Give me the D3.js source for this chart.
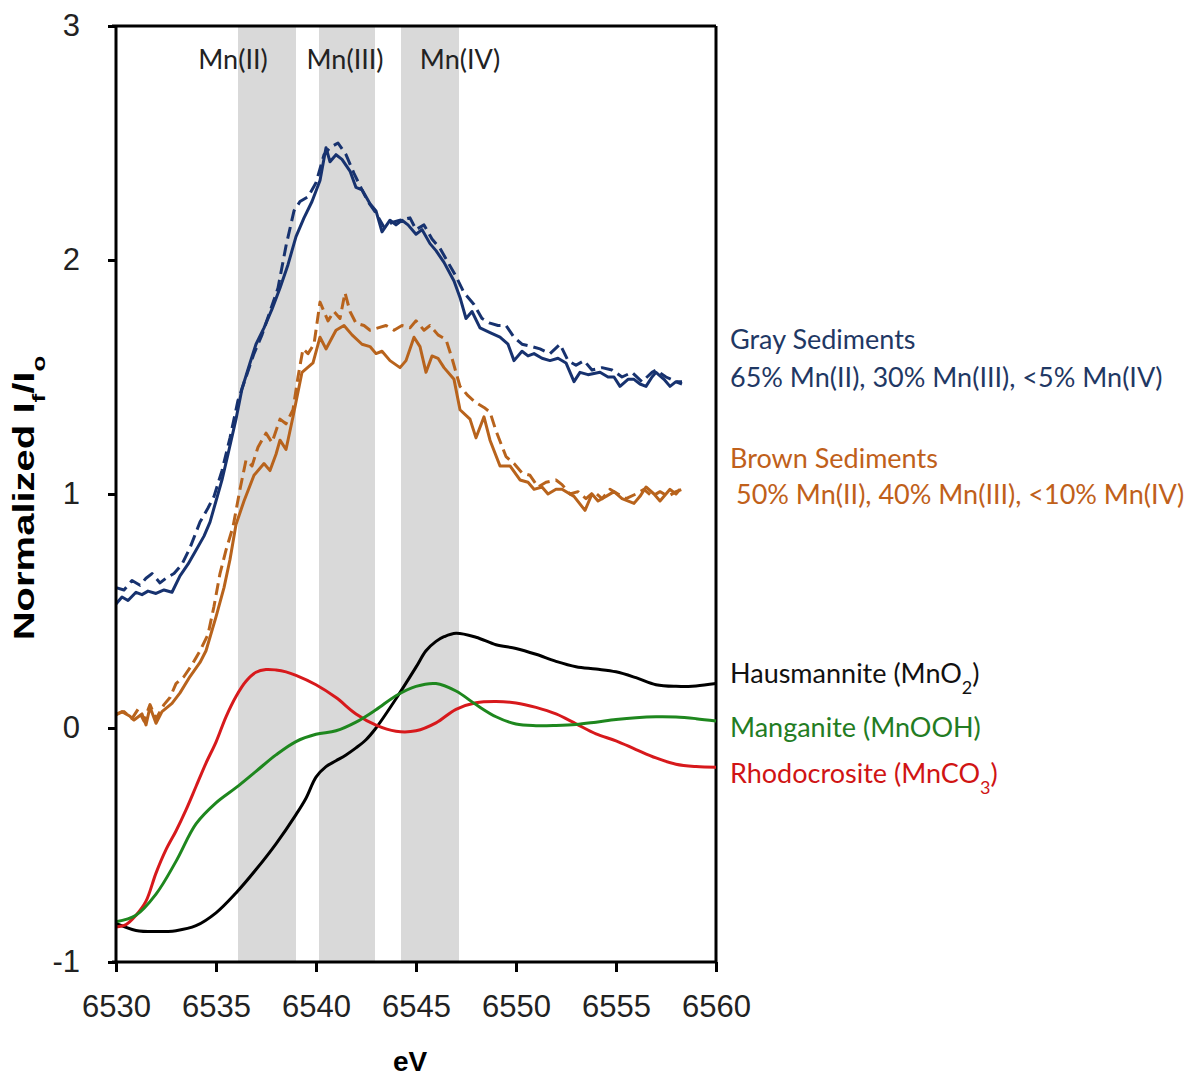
<!DOCTYPE html>
<html>
<head>
<meta charset="utf-8">
<script src="https://cdn.jsdelivr.net/npm/d3@7"></script>
<style>
  body { margin: 0; background: #fff; }
  .tick text { font-family: "Liberation Sans", Arial, sans-serif; fill: #222; }
  .lbl { font-family: Lato, "Open Sans", sans-serif; }
</style>
</head>
<body>
<script>
var w = 1196;
var h = 1078;

// noisy sample spectra (eV, normalized intensity)
var grayX = [6530.0,6530.3,6530.6,6531.0,6531.3,6531.6,6532.0,6532.4,6532.8,6533.2,6533.6,6534.0,6534.4,6534.7,6535.0,6535.3,6535.6,6536.0,6536.3,6536.7,6537.0,6537.4,6537.8,6538.2,6538.6,6539.0,6539.4,6539.8,6540.2,6540.5,6540.7,6541.0,6541.3,6541.7,6542.0,6542.3,6542.7,6543.0,6543.3,6543.7,6544.0,6544.3,6544.6,6545.0,6545.3,6545.7,6546.0,6546.4,6546.9,6547.2,6547.5,6547.8,6548.2,6548.7,6549.2,6549.6,6549.9,6550.3,6550.6,6550.9,6551.3,6551.7,6552.1,6552.5,6552.9,6553.2,6553.6,6554.2,6554.6,6554.9,6555.2,6555.6,6555.9,6556.2,6556.5,6556.8,6557.0,6557.4,6557.7,6558.0,6558.3];
var grayY = [0.53,0.56,0.545,0.58,0.57,0.585,0.575,0.59,0.58,0.65,0.70,0.76,0.82,0.88,0.97,1.06,1.17,1.32,1.45,1.56,1.64,1.71,1.79,1.88,1.98,2.10,2.18,2.25,2.34,2.48,2.42,2.45,2.43,2.38,2.31,2.30,2.24,2.21,2.12,2.17,2.15,2.17,2.15,2.11,2.13,2.07,2.04,1.99,1.91,1.84,1.75,1.78,1.71,1.69,1.67,1.64,1.57,1.61,1.59,1.60,1.58,1.57,1.58,1.56,1.48,1.52,1.51,1.52,1.50,1.50,1.46,1.49,1.49,1.47,1.46,1.50,1.52,1.49,1.46,1.48,1.48];

var grayFitX = [6530.0,6530.4,6530.8,6531.2,6531.5,6531.8,6532.2,6532.5,6532.9,6533.3,6533.7,6534.2,6534.6,6534.9,6535.3,6535.7,6536.1,6536.5,6536.9,6537.3,6537.7,6538.1,6538.5,6538.9,6539.2,6539.6,6540.0,6540.4,6540.7,6541.1,6541.5,6541.9,6542.3,6542.6,6543.0,6543.4,6543.8,6544.2,6544.7,6545.0,6545.4,6545.8,6546.2,6546.6,6547.0,6547.4,6547.9,6548.3,6548.7,6549.1,6549.5,6549.9,6550.3,6550.8,6551.2,6551.7,6552.2,6552.6,6553.0,6553.4,6553.8,6554.3,6554.8,6555.3,6555.8,6556.3,6556.8,6557.0,6557.5,6558.0,6558.3];
var grayFitY = [0.60,0.59,0.63,0.61,0.64,0.66,0.62,0.64,0.66,0.70,0.77,0.88,0.94,0.99,1.10,1.24,1.40,1.50,1.60,1.68,1.78,1.88,2.06,2.21,2.25,2.27,2.33,2.45,2.48,2.50,2.45,2.37,2.30,2.25,2.20,2.14,2.16,2.17,2.18,2.13,2.15,2.09,2.05,1.99,1.93,1.86,1.81,1.75,1.73,1.72,1.72,1.67,1.64,1.63,1.62,1.60,1.64,1.57,1.55,1.57,1.53,1.54,1.53,1.50,1.52,1.48,1.52,1.53,1.50,1.48,1.47];

var brownX = [6530.0,6530.3,6530.7,6530.9,6531.3,6531.5,6531.7,6532.0,6532.3,6532.8,6533.2,6533.7,6534.2,6534.5,6535.0,6535.4,6535.7,6536.0,6536.4,6536.9,6537.4,6537.7,6538.0,6538.2,6538.5,6538.85,6539.3,6539.85,6540.2,6540.5,6541.0,6541.4,6541.8,6542.3,6542.7,6543.0,6543.3,6543.7,6544.2,6544.5,6544.9,6545.2,6545.5,6545.8,6546.1,6546.4,6546.9,6547.2,6547.7,6548.0,6548.4,6548.7,6549.2,6549.7,6550.2,6550.6,6550.9,6551.3,6551.6,6552.0,6552.3,6552.9,6553.45,6553.8,6554.1,6554.5,6554.9,6555.3,6555.9,6556.2,6556.5,6556.9,6557.2,6557.7,6558.0,6558.2];
var brownY = [0.056,0.07,0.05,0.034,0.06,0.013,0.09,0.02,0.07,0.105,0.15,0.22,0.28,0.33,0.475,0.60,0.72,0.87,0.97,1.08,1.13,1.10,1.17,1.23,1.19,1.33,1.52,1.56,1.67,1.62,1.70,1.72,1.68,1.64,1.63,1.60,1.61,1.57,1.54,1.57,1.67,1.63,1.52,1.59,1.58,1.54,1.49,1.36,1.32,1.24,1.33,1.23,1.12,1.12,1.06,1.05,1.02,1.03,1.00,1.02,1.02,0.99,0.93,1.00,0.97,0.99,1.01,0.98,0.96,0.99,1.03,1.00,0.97,1.02,1.00,1.02];

var brownFitX = [6530.0,6530.4,6530.8,6531.1,6531.4,6531.7,6532.0,6532.4,6532.7,6533.0,6533.4,6533.8,6534.2,6534.6,6534.9,6535.2,6535.5,6535.85,6536.2,6536.5,6536.8,6537.1,6537.5,6537.8,6538.2,6538.5,6538.85,6539.1,6539.35,6539.6,6539.9,6540.2,6540.6,6540.9,6541.2,6541.45,6541.7,6542.0,6542.4,6542.7,6543.1,6543.5,6543.9,6544.3,6544.7,6545.0,6545.4,6545.7,6546.1,6546.5,6546.8,6547.2,6547.6,6548.0,6548.4,6548.7,6549.0,6549.5,6549.9,6550.3,6550.7,6551.1,6551.5,6552.0,6552.3,6552.7,6553.1,6553.5,6553.9,6554.3,6554.7,6555.1,6555.5,6556.0,6556.4,6556.8,6557.2,6557.6,6558.0,6558.3];
var brownFitY = [0.06,0.07,0.04,0.08,0.03,0.10,0.04,0.10,0.13,0.19,0.22,0.27,0.33,0.40,0.52,0.66,0.76,0.86,1.02,1.145,1.12,1.20,1.26,1.22,1.32,1.30,1.36,1.50,1.62,1.60,1.64,1.82,1.74,1.78,1.75,1.86,1.78,1.73,1.72,1.70,1.71,1.72,1.70,1.72,1.71,1.74,1.70,1.72,1.68,1.66,1.58,1.46,1.42,1.39,1.37,1.35,1.27,1.16,1.13,1.09,1.08,1.03,1.05,1.06,1.04,1.00,1.01,0.98,1.01,0.98,1.02,1.00,0.98,1.00,1.02,0.99,1.01,0.99,1.01,1.02];

// reference minerals
var hausX = [6530,6531,6532,6533,6534,6535,6536,6537,6538,6539,6539.5,6540,6540.5,6541,6541.5,6542,6542.5,6543,6544,6545,6545.5,6546,6546.4,6547,6548,6549,6550,6551,6552,6553,6554,6555,6556,6557,6558,6559,6560];
var hausY = [-0.835,-0.865,-0.87,-0.866,-0.845,-0.79,-0.705,-0.605,-0.495,-0.37,-0.30,-0.21,-0.165,-0.14,-0.115,-0.085,-0.05,0.0,0.125,0.26,0.33,0.37,0.39,0.405,0.388,0.356,0.34,0.315,0.285,0.262,0.252,0.24,0.215,0.185,0.178,0.18,0.19];

var mangX = [6530,6531,6532,6533,6534,6535,6536,6537,6538,6539,6540,6541,6542,6543,6544,6545,6546,6547,6548,6549,6550,6551,6552,6553,6554,6555,6556,6557,6558,6559,6560];
var mangY = [-0.828,-0.80,-0.71,-0.57,-0.41,-0.32,-0.255,-0.185,-0.115,-0.058,-0.027,-0.012,0.025,0.078,0.138,0.178,0.19,0.158,0.10,0.048,0.017,0.01,0.011,0.015,0.025,0.036,0.044,0.048,0.047,0.04,0.03];

var rhodX = [6530,6530.5,6531,6531.5,6532,6532.5,6533,6533.5,6534,6534.5,6535,6535.5,6536,6536.5,6537,6537.5,6538,6538.5,6539,6540,6541,6542,6543,6544,6545,6546,6547,6548,6549,6550,6551,6552,6553,6554,6555,6556,6557,6558,6559,6560];
var rhodY = [-0.85,-0.84,-0.80,-0.74,-0.62,-0.52,-0.44,-0.35,-0.25,-0.15,-0.06,0.048,0.135,0.20,0.238,0.25,0.248,0.24,0.225,0.185,0.13,0.06,0.012,-0.014,-0.012,0.022,0.08,0.108,0.113,0.107,0.088,0.06,0.018,-0.025,-0.055,-0.092,-0.128,-0.155,-0.165,-0.168];

// oxidation state windows
var bandNames = ["Mn(II)", "Mn(III)", "Mn(IV)"];
var bandFrom = [6536.1, 6540.15, 6544.25];
var bandTo = [6539.0, 6542.95, 6547.15];

var xTicks = [6530, 6535, 6540, 6545, 6550, 6555, 6560];
var yTicks = [-1, 0, 1, 2, 3];

var pL = 116, pR = 716, pT = 26, pB = 962;

var x = d3.scaleLinear().domain([6530, 6560]).range([pL, pR]);
var y = d3.scaleLinear().domain([-1, 3]).range([pB, pT]);

var svg = d3.select("body")
         .append("svg")
         .attr("width", w)
         .attr("height", h);

// gray bands
svg.selectAll("rect.band")
    .data(bandFrom)
    .enter()
    .append("rect")
    .attr("class", "band")
    .attr("x", function(d) { return x(d); })
    .attr("y", pT)
    .attr("width", function(d, i) { return x(bandTo[i]) - x(d); })
    .attr("height", pB - pT)
    .attr("fill", "#d9d9d9");

svg.selectAll("text.band")
    .data(bandNames)
    .enter()
    .append("text")
    .attr("class", "lbl")
    .attr("x", function(d, i) { return [233, 345, 460][i]; })
    .attr("y", 69)
    .attr("text-anchor", "middle")
    .attr("font-size", 27)
    .attr("fill", "#222")
    .text(function(d) { return d; });

// frame
svg.append("line").attr("x1", pL - 4).attr("y1", pT).attr("x2", pR).attr("y2", pT)
    .attr("stroke", "#000").attr("stroke-width", 3);
svg.append("line").attr("x1", pR).attr("y1", pT).attr("x2", pR).attr("y2", pB)
    .attr("stroke", "#000").attr("stroke-width", 3);

function series(xs, ys) {
  return xs.map(function(d, i) { return [d, ys[i]]; });
}

var lin = d3.line().x(function(d) { return x(d[0]); }).y(function(d) { return y(d[1]); });
var smooth = d3.line().curve(d3.curveCatmullRom).x(function(d) { return x(d[0]); }).y(function(d) { return y(d[1]); });

var curves = [
  { pts: series(hausX, hausY), color: "#000000", gen: smooth, dash: null },
  { pts: series(rhodX, rhodY), color: "#d7191c", gen: smooth, dash: null },
  { pts: series(mangX, mangY), color: "#1e871e", gen: smooth, dash: null },
  { pts: series(brownFitX, brownFitY), color: "#b8631c", gen: lin, dash: "12,6" },
  { pts: series(brownX, brownY), color: "#b8631c", gen: lin, dash: null },
  { pts: series(grayFitX, grayFitY), color: "#17326f", gen: lin, dash: "12,6" },
  { pts: series(grayX, grayY), color: "#17326f", gen: lin, dash: null }
];

svg.selectAll("path.curve")
    .data(curves)
    .enter()
    .append("path")
    .attr("class", "curve")
    .attr("d", function(d) { return d.gen(d.pts); })
    .attr("fill", "none")
    .attr("stroke", function(d) { return d.color; })
    .attr("stroke-width", 3)
    .attr("stroke-linejoin", "round")
    .attr("stroke-dasharray", function(d) { return d.dash; });

// axes
var xAxis = svg.append("g")
    .attr("transform", "translate(0," + pB + ")")
    .call(d3.axisBottom(x).tickValues(xTicks).tickSize(10).tickSizeOuter(0).tickPadding(23).tickFormat(String));
var yAxis = svg.append("g")
    .attr("transform", "translate(" + pL + ",0)")
    .call(d3.axisLeft(y).tickValues(yTicks).tickSize(8).tickSizeOuter(0).tickPadding(28).tickFormat(String));

[xAxis, yAxis].forEach(function(a) {
  a.select(".domain").attr("stroke", "#000").attr("stroke-width", 3);
  a.selectAll(".tick line").attr("stroke", "#000").attr("stroke-width", 3);
  a.selectAll(".tick text").attr("font-size", 31).attr("fill", "#222");
});
xAxis.select(".domain").attr("d", "M" + (pL - 4) + ",0H" + pR);
yAxis.select(".domain").attr("d", "M0," + pT + "V" + pB);

svg.append("text")
    .attr("x", 410)
    .attr("y", 1071)
    .attr("text-anchor", "middle")
    .attr("font-family", "Liberation Sans, Arial, sans-serif")
    .attr("font-weight", "bold")
    .attr("font-size", 28)
    .text("eV");

var yt = svg.append("text")
    .attr("transform", "translate(34,498) rotate(-90) scale(1,0.72)")
    .attr("text-anchor", "middle")
    .attr("font-family", "Liberation Sans, Arial, sans-serif")
    .attr("font-weight", "bold")
    .attr("font-size", 40);
yt.append("tspan").text("Normalized I");
yt.append("tspan").attr("font-size", 26).attr("baseline-shift", "sub").text("f");
yt.append("tspan").text("/I");
yt.append("tspan").attr("font-size", 26).attr("baseline-shift", "sub").text("o");

// curve labels
var labels = [
  { t: ["Gray Sediments"], x: 730, y: 349, c: "#1f3864" },
  { t: ["65% Mn(II), 30% Mn(III), <5% Mn(IV)"], x: 730, y: 387, c: "#1f3864" },
  { t: ["Brown Sediments"], x: 730, y: 468, c: "#c0601a" },
  { t: ["50% Mn(II), 40% Mn(III), <10% Mn(IV)"], x: 736, y: 504, c: "#c0601a" },
  { t: ["Hausmannite (MnO", "2", ")"], x: 730, y: 683, c: "#111" },
  { t: ["Manganite (MnOOH)"], x: 730, y: 737, c: "#237c23" },
  { t: ["Rhodocrosite (MnCO", "3", ")"], x: 730, y: 783, c: "#d01414" }
];

labels.forEach(function(l) {
  var t = svg.append("text")
      .attr("class", "lbl")
      .attr("x", l.x)
      .attr("y", l.y)
      .attr("font-size", 27)
      .attr("fill", l.c);
  l.t.forEach(function(s, i) {
    var sp = t.append("tspan").text(s);
    if (i == 1) sp.attr("font-size", 18).attr("baseline-shift", "sub");
  });
});
</script>
</body>
</html>
